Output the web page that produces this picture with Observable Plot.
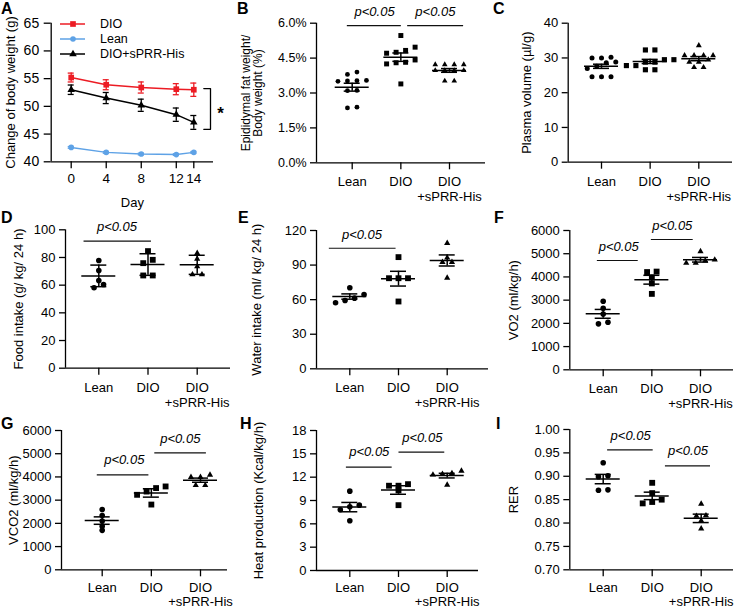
<!DOCTYPE html>
<html><head><meta charset="utf-8">
<script src="https://cdn.jsdelivr.net/npm/d3@7"></script>
<script src="https://cdn.jsdelivr.net/npm/@observablehq/plot@0.6"></script>
<style>
body{margin:0;background:#fff;}
#fig{position:relative;width:734px;height:610px;overflow:hidden;font-family:"Liberation Sans",Arial,Helvetica,sans-serif;color:#000;background:#fff;}
.panel{position:absolute;}
.letter{position:absolute;font-weight:bold;font-size:16px;line-height:1;}
.legend{position:absolute;font-size:12.5px;}
.legend .row{display:flex;align-items:center;height:15px;}
</style></head><body><div id="fig"></div>
<script>
// ---------- DATA ----------
const groupNames = ["Lean", "DIO", "DIO\n+sPRR-His"];

// Panel A: body weight over days
const days = [0, 4, 8, 12, 14];
const seriesNames = ["DIO", "Lean", "DIO+sPRR-His"];
const weightDIO  = [55.2, 53.9, 53.4, 53.1, 53.0];
const semDIO     = [0.8, 0.9, 1.0, 1.0, 1.2];
const weightLean = [42.6, 41.7, 41.4, 41.3, 41.7];
const semLean    = [0.15, 0.15, 0.15, 0.15, 0.15];
const weightSPRR = [53.0, 51.5, 50.2, 48.5, 47.1];
const semSPRR    = [0.85, 1.0, 1.1, 1.2, 1.25];
const weightTicks = [40, 45, 50, 55, 60, 65];

// Panel B: epididymal fat / body weight (%)
const fatLean = [3.90, 3.80, 3.54, 3.53, 3.52, 3.50, 3.11, 3.10, 2.39, 2.36];
const fatDIO  = [5.47, 4.97, 4.83, 4.75, 4.71, 4.42, 4.32, 4.30, 4.25, 3.39];
const fatSPRR = [4.22, 4.22, 4.22, 4.22, 3.97, 3.97, 3.97, 3.97, 3.52, 3.52];
const fatMean = [3.25, 4.54, 3.97];
const fatSem  = [0.17, 0.18, 0.08];
const fatTicks = [0, 1.5, 3, 4.5, 6];

// Panel C: plasma volume
const plasmaLean = [30.2, 30.0, 30.0, 28.8, 28.6, 27.6, 27.0, 24.6, 24.6, 24.6];
const plasmaDIO  = [32.3, 32.3, 29.5, 29.5, 28.8, 28.8, 27.8, 27.8, 26.6, 26.6];
const plasmaSPRR = [33.6, 30.7, 30.7, 30.7, 30.7, 29.5, 28.8, 28.8, 27.3, 27.3];
const plasmaMean = [27.6, 29.0, 29.8];
const plasmaSem  = [0.6, 0.6, 0.6];
const plasmaTicks = [0, 10, 20, 30, 40];

// Panel D: food intake (mean ± SD)
const foodLean = [77.8, 70.6, 63.4, 60.5, 58.1];
const foodDIO  = [84.6, 78.3, 75.9, 67.0, 67.0];
const foodSPRR = [83.1, 79.0, 73.5, 67.7, 67.7];
const foodMean = [66.7, 74.9, 74.7];
const foodSd   = [7.8, 7.8, 6.9];
const foodTicks = [0, 20, 40, 60, 80, 100];

// Panel E: water intake
const waterLean = [70.3, 64.5, 61.3, 59.3, 57.3];
const waterDIO  = [96.9, 78.6, 78.6, 78.6, 58.4];
const waterSPRR = [109.0, 96.3, 92.5, 92.5, 78.9];
const waterMean = [62.7, 78.2, 94.0];
const waterSem  = [2.3, 6.4, 4.8];
const waterTicks = [0, 30, 60, 90, 120];

// Panel F: VO2
const vo2Lean = [2950, 2650, 2400, 2050, 1980];
const vo2DIO  = [4230, 4210, 3980, 3720, 3270];
const vo2SPRR = [5100, 4740, 4700, 4600, 4600];
const vo2Mean = [2410, 3880, 4740];
const vo2Sem  = [190, 190, 100];

// Panel G: VCO2
const vco2Lean = [2600, 2340, 2100, 1880, 1700];
const vco2DIO  = [3590, 3520, 3370, 3230, 2810];
const vco2SPRR = [4090, 3990, 3990, 3640, 3640];
const vco2Mean = [2120, 3310, 3860];
const vco2Sem  = [160, 180, 90];
const gasTicks = [0, 1000, 2000, 3000, 4000, 5000, 6000];

// Panel H: heat production
const heatLean = [10.2, 8.4, 8.2, 7.8, 6.4];
const heatDIO  = [11.1, 10.9, 10.9, 10.3, 8.4];
const heatSPRR = [12.8, 12.5, 12.4, 12.3, 11.0];
const heatMean = [8.15, 10.35, 12.2];
const heatSem  = [0.6, 0.55, 0.3];
const heatTicks = [0, 3, 6, 9, 12, 15, 18];

// Panel I: RER
const rerLean = [0.929, 0.901, 0.899, 0.871, 0.870];
const rerDIO  = [0.886, 0.864, 0.850, 0.845, 0.842];
const rerSPRR = [0.841, 0.816, 0.815, 0.805, 0.788];
const rerMean = [0.894, 0.858, 0.810];
const rerSem  = [0.010, 0.008, 0.009];
const rerTicks = [0.70, 0.75, 0.80, 0.85, 0.90, 0.95, 1.00];

// significance annotations (group units / value units)
const pLabel = "p<0.05";
const sigB = [{x1:-0.10,x2:1.01,y:5.90,tx:0.46,ty:6.47},{x1:1.14,x2:2.29,y:5.90,tx:1.71,ty:6.47}];
const sigD = [{x1:-0.30,x2:1.07,y:91.8,tx:0.37,ty:101.9}];
const sigE = [{x1:-0.42,x2:0.95,y:104.6,tx:0.25,ty:116.3}];
const sigF = [{x1:-0.12,x2:0.72,y:4708,tx:0.32,ty:5311},{x1:0.99,x2:1.85,y:5612,tx:1.42,ty:6215}];
const sigG = [{x1:-0.10,x2:0.95,y:4092,tx:0.45,ty:4751},{x1:1.07,x2:2.12,y:5040,tx:1.59,ty:5643}];
const sigH = [{x1:-0.07,x2:0.87,y:13.28,tx:0.40,ty:15.21},{x1:1.01,x2:1.95,y:15.21,tx:1.49,ty:17.06}];
const sigI = [{x1:0.09,x2:1.02,y:0.9566,tx:0.56,ty:0.9857},{x1:1.27,x2:2.19,y:0.9224,tx:1.73,ty:0.9536}];

// ---------- STYLE / LAYOUT ----------
const seriesColors = ["#ec1c24", "#5ea2e6", "#000000"];
const seriesSymbols = ["square", "circle", "triangle"];
const fontFamily = '"Liberation Sans", Arial, Helvetica, sans-serif';
const baseStyle = {background:"transparent", overflow:"visible", fontFamily, fontSize:"13px", color:"#000"};
const fig = document.getElementById("fig");

function place(node, left, top) {
  const d = document.createElement("div");
  d.className = "panel"; d.style.left = left + "px"; d.style.top = top + "px";
  d.appendChild(node); fig.appendChild(d);
}
function letter(t, left, top) {
  const d = document.createElement("div");
  d.className = "letter"; d.textContent = t;
  d.style.left = left + "px"; d.style.top = top + "px";
  fig.appendChild(d);
}

// spread points that share (nearly) the same height side by side
function dodge(values, pxPerY, unitPx, center, gapPx = 9.5, tol = 4) {
  const order = d3.range(values.length).sort((a, b) => values[a] - values[b]);
  const xs = [];
  let k = 0;
  while (k < order.length) {
    let j = k + 1;
    while (j < order.length && (values[order[j]] - values[order[j - 1]]) * pxPerY < tol) j++;
    const n = j - k;
    for (let m = 0; m < n; m++) xs[order[k + m]] = center + (m - (n - 1) / 2) * gapPx / unitPx;
    k = j;
  }
  return xs;
}

function dotPanel(cfg) {
  const {box, frame, yDomain, yTicks, yFormat, label, labelOffset, groups, means, errs, sig,
         radii = [2.8, 3.3, 2.3], labelFont = 13, tickFont = 13, xPad = 6, xLine = 1.15} = cfg;
  const unit = (frame.c2 - frame.c0) / 2;
  const xd0 = -(frame.c0 - frame.left) / unit, xd1 = 2 + (frame.right - frame.c2) / unit;
  const pxPerY = (frame.bottom - frame.top) / (yDomain[1] - yDomain[0]);
  const pts = groups.map((vals, i) => {
    const xs = dodge(vals, pxPerY, unit, i);
    return vals.map((v, k) => ({i, x: xs[k], v}));
  });
  const stats = means.map((m, i) => ({i, m, e: errs[i]}));
  const meanHalf = 17 / unit, capHalf = 8 / unit;
  const symbols = ["circle", "square", "triangle"];
  const svg = Plot.plot({
    width: box.w, height: box.h,
    marginLeft: frame.left - box.left, marginRight: box.left + box.w - frame.right,
    marginTop: frame.top - box.top, marginBottom: box.top + box.h - frame.bottom,
    x: {domain: [xd0, xd1]}, y: {domain: yDomain},
    style: baseStyle,
    marks: [
      Plot.ruleX([xd0], {strokeWidth: 1.3}),
      Plot.ruleY([yDomain[0]], {strokeWidth: 1.3}),
      Plot.axisY({ticks: yTicks, tickFormat: yFormat, tickSize: 6, tickPadding: 4, fontSize: tickFont, strokeWidth: 1.3, label: null}),
      Plot.axisY({ticks: [], label, labelAnchor: "center", labelArrow: "none", labelOffset, fontSize: labelFont}),
      Plot.axisX({ticks: [0, 1, 2], tickFormat: i => groupNames[i], tickSize: 7, tickPadding: xPad, fontSize: 13, strokeWidth: 1.3, lineHeight: xLine, label: null}),
      ...pts.map((p, i) => Plot.dot(p, {x: "x", y: "v", symbol: symbols[i], r: radii[i], fill: "#000", stroke: "none"})),
      Plot.ruleY(stats, {y: "m", x1: d => d.i - meanHalf, x2: d => d.i + meanHalf, strokeWidth: 1.5}),
      Plot.ruleX(stats, {x: "i", y1: d => d.m - d.e, y2: d => d.m + d.e, strokeWidth: 1.5}),
      Plot.ruleY(stats, {y: d => d.m + d.e, x1: d => d.i - capHalf, x2: d => d.i + capHalf, strokeWidth: 1.5}),
      Plot.ruleY(stats, {y: d => d.m - d.e, x1: d => d.i - capHalf, x2: d => d.i + capHalf, strokeWidth: 1.5}),
      Plot.ruleY(sig, {y: "y", x1: "x1", x2: "x2", strokeWidth: 1.2, stroke: "#111"}),
      Plot.text(sig, {x: "tx", y: "ty", text: () => pLabel, fontStyle: "italic", fontSize: 13})
    ]
  });
  place(svg, box.left, box.top);
}

// ---------- PANEL A ----------
(function () {
  const box = {left: 0, top: 0, w: 228, h: 205};
  const frame = {left: 50.7, right: 213, top: 22.7, bottom: 161.3};
  const day0px = 70.7, day14px = 193.3;
  const pxDay = (day14px - day0px) / 14;
  const xd0 = -(day0px - frame.left) / pxDay, xd1 = 14 + (frame.right - day14px) / pxDay;
  const wData = [weightDIO, weightLean, weightSPRR], wSem = [semDIO, semLean, semSPRR];
  const rows = seriesNames.flatMap((s, k) => days.map((d, j) => ({s, day: d, w: wData[k][j], e: wSem[k][j]})));
  const cap = 3 / pxDay;
  const last = days.length - 1;
  const top = weightDIO[last] + 0.2, bottom = weightSPRR[last] - semSPRR[last];
  const bx = days[last] + 16.7 / pxDay, bt = days[last] + 10 / pxDay;
  const bracket = [{day: bt, y: top}, {day: bx, y: top}, {day: bx, y: bottom}, {day: bt, y: bottom}];
  const svg = Plot.plot({
    width: box.w, height: box.h,
    marginLeft: frame.left, marginRight: box.w - frame.right, marginTop: frame.top, marginBottom: box.h - frame.bottom,
    x: {domain: [xd0, xd1]}, y: {domain: [40, 65]},
    color: {domain: seriesNames, range: seriesColors},
    style: baseStyle,
    marks: [
      Plot.ruleX([xd0], {strokeWidth: 1.3}),
      Plot.ruleY([40], {strokeWidth: 1.3}),
      Plot.axisY({ticks: weightTicks, tickSize: 7, tickPadding: 5, fontSize: 14, strokeWidth: 1.3, label: null}),
      Plot.axisY({ticks: [], label: "Change of body weight (g)", labelAnchor: "center", labelArrow: "none", labelOffset: 45.7, fontSize: 13}),
      Plot.axisX({ticks: days, tickSize: 7, tickPadding: 5, fontSize: 13.5, strokeWidth: 1.3, label: null}),
      Plot.axisX({ticks: [], label: "Day", labelAnchor: "center", labelArrow: "none", labelOffset: 45, fontSize: 13}),
      Plot.ruleX(rows, {x: "day", y1: d => d.w - d.e, y2: d => d.w + d.e, stroke: "s", strokeWidth: 1.3}),
      Plot.ruleY(rows, {y: d => d.w + d.e, x1: d => d.day - cap, x2: d => d.day + cap, stroke: "s", strokeWidth: 1.3}),
      Plot.ruleY(rows, {y: d => d.w - d.e, x1: d => d.day - cap, x2: d => d.day + cap, stroke: "s", strokeWidth: 1.3}),
      Plot.line(rows, {x: "day", y: "w", z: "s", stroke: "s", strokeWidth: 1.5}),
      ...seriesNames.map((s, k) => Plot.dot(rows.filter(d => d.s === s), {x: "day", y: "w", symbol: seriesSymbols[k], r: k === 0 ? 3.2 : 2.8, fill: "s", stroke: "none"})),
      Plot.line(bracket, {x: "day", y: "y", strokeWidth: 1.3, stroke: "#000"}),
      Plot.text(["*"], {x: days[last] + 26.7 / pxDay, y: (top + bottom) / 2, text: d => d, fontSize: 17, fontWeight: "bold", dy: 5})
    ]
  });
  place(svg, box.left, box.top);

  // legend
  const leg = document.createElement("div");
  leg.className = "legend"; leg.style.left = "59px"; leg.style.top = "16px";
  const symType = {square: d3.symbolSquare, circle: d3.symbolCircle, triangle: d3.symbolTriangle};
  seriesNames.forEach((s, k) => {
    const r = k === 0 ? 3.2 : 2.8;
    const path = d3.symbol(symType[seriesSymbols[k]], Math.PI * r * r)();
    const row = document.createElement("div"); row.className = "row";
    row.innerHTML = `<svg width="27" height="10" style="overflow:visible"><line x1="1" x2="26" y1="5" y2="5" stroke="${seriesColors[k]}" stroke-width="1.5"/><path transform="translate(14,5)" d="${path}" fill="${seriesColors[k]}"/></svg><span style="margin-left:14px">${s}</span>`;
    leg.appendChild(row);
  });
  fig.appendChild(leg);
})();

// ---------- PANELS B–I ----------
const fmtPct = d => d.toFixed(1) + "%";
const fmtInt = d => String(d);
dotPanel({box:{left:228,top:0,w:262,h:205}, frame:{left:316,right:485,top:22.7,bottom:162.3,c0:351.7,c2:449},
  yDomain:[0,6], yTicks:fatTicks, yFormat:fmtPct, label:"Epididymal fat weight/\nBody weight (%)", labelOffset:75, labelFont:12,
  groups:[fatLean, fatDIO, fatSPRR], means:fatMean, errs:fatSem, sig:sigB, radii:[2.4, 2.8, 2.1], tickFont:12.5});
dotPanel({box:{left:490,top:0,w:244,h:205}, frame:{left:567.7,right:732,top:22.7,bottom:161.7,c0:601,c2:698.3},
  yDomain:[0,40], yTicks:plasmaTicks, yFormat:fmtInt, label:"Plasma volume (µl/g)", labelOffset:46,
  groups:[plasmaLean, plasmaDIO, plasmaSPRR], means:plasmaMean, errs:plasmaSem, sig:[], radii:[2.5, 2.9, 2.2]});
dotPanel({box:{left:0,top:200,w:235,h:210}, frame:{left:65,right:230,top:229.3,bottom:367.7,c0:98.3,c2:196.7},
  yDomain:[0,100], yTicks:foodTicks, yFormat:fmtInt, label:"Food intake (g/ kg/ 24 h)", labelOffset:51.7,
  groups:[foodLean, foodDIO, foodSPRR], means:foodMean, errs:foodSd, sig:sigD});
dotPanel({box:{left:235,top:200,w:255,h:210}, frame:{left:316,right:488,top:230,bottom:368.3,c0:349.3,c2:446.7},
  yDomain:[0,120], yTicks:waterTicks, yFormat:fmtInt, label:"Water intake (ml/ kg/ 24 h)", labelOffset:64.3,
  groups:[waterLean, waterDIO, waterSPRR], means:waterMean, errs:waterSem, sig:sigE});
dotPanel({box:{left:490,top:200,w:244,h:210}, frame:{left:569.3,right:733,top:230,bottom:369.3,c0:602.7,c2:700},
  yDomain:[0,6000], yTicks:gasTicks, yFormat:fmtInt, label:"VO2 (ml/kg/h)", labelOffset:61,
  groups:[vo2Lean, vo2DIO, vo2SPRR], means:vo2Mean, errs:vo2Sem, sig:sigF});
dotPanel({box:{left:0,top:400,w:235,h:210}, frame:{left:61,right:227,top:430,bottom:569.3,c0:101.7,c2:200},
  yDomain:[0,6000], yTicks:gasTicks, yFormat:fmtInt, label:"VCO2 (ml/kg/h)", labelOffset:52.7,
  groups:[vco2Lean, vco2DIO, vco2SPRR], means:vco2Mean, errs:vco2Sem, sig:sigG, xPad:5, xLine:1.08});
dotPanel({box:{left:235,top:400,w:255,h:210}, frame:{left:316,right:478,top:430,bottom:570,c0:349.3,c2:446.7},
  yDomain:[0,18], yTicks:heatTicks, yFormat:fmtInt, label:"Heat production (Kcal/kg/h)", labelOffset:62.7,
  groups:[heatLean, heatDIO, heatSPRR], means:heatMean, errs:heatSem, sig:sigH, xPad:4.5, xLine:1.08});
dotPanel({box:{left:490,top:400,w:244,h:210}, frame:{left:569.3,right:733,top:429,bottom:569.3,c0:602.7,c2:700.7},
  yDomain:[0.7,1.0], yTicks:rerTicks, yFormat:d => d.toFixed(2), label:"RER", labelOffset:61,
  groups:[rerLean, rerDIO, rerSPRR], means:rerMean, errs:rerSem, sig:sigI, xPad:5, xLine:1.08});

// panel letters
letter("A", 1, 1); letter("B", 237, 1); letter("C", 493, 1);
letter("D", 1, 210); letter("E", 238, 210); letter("F", 494, 210);
letter("G", 1, 416); letter("H", 240, 416); letter("I", 496, 416);
</script></body></html>
